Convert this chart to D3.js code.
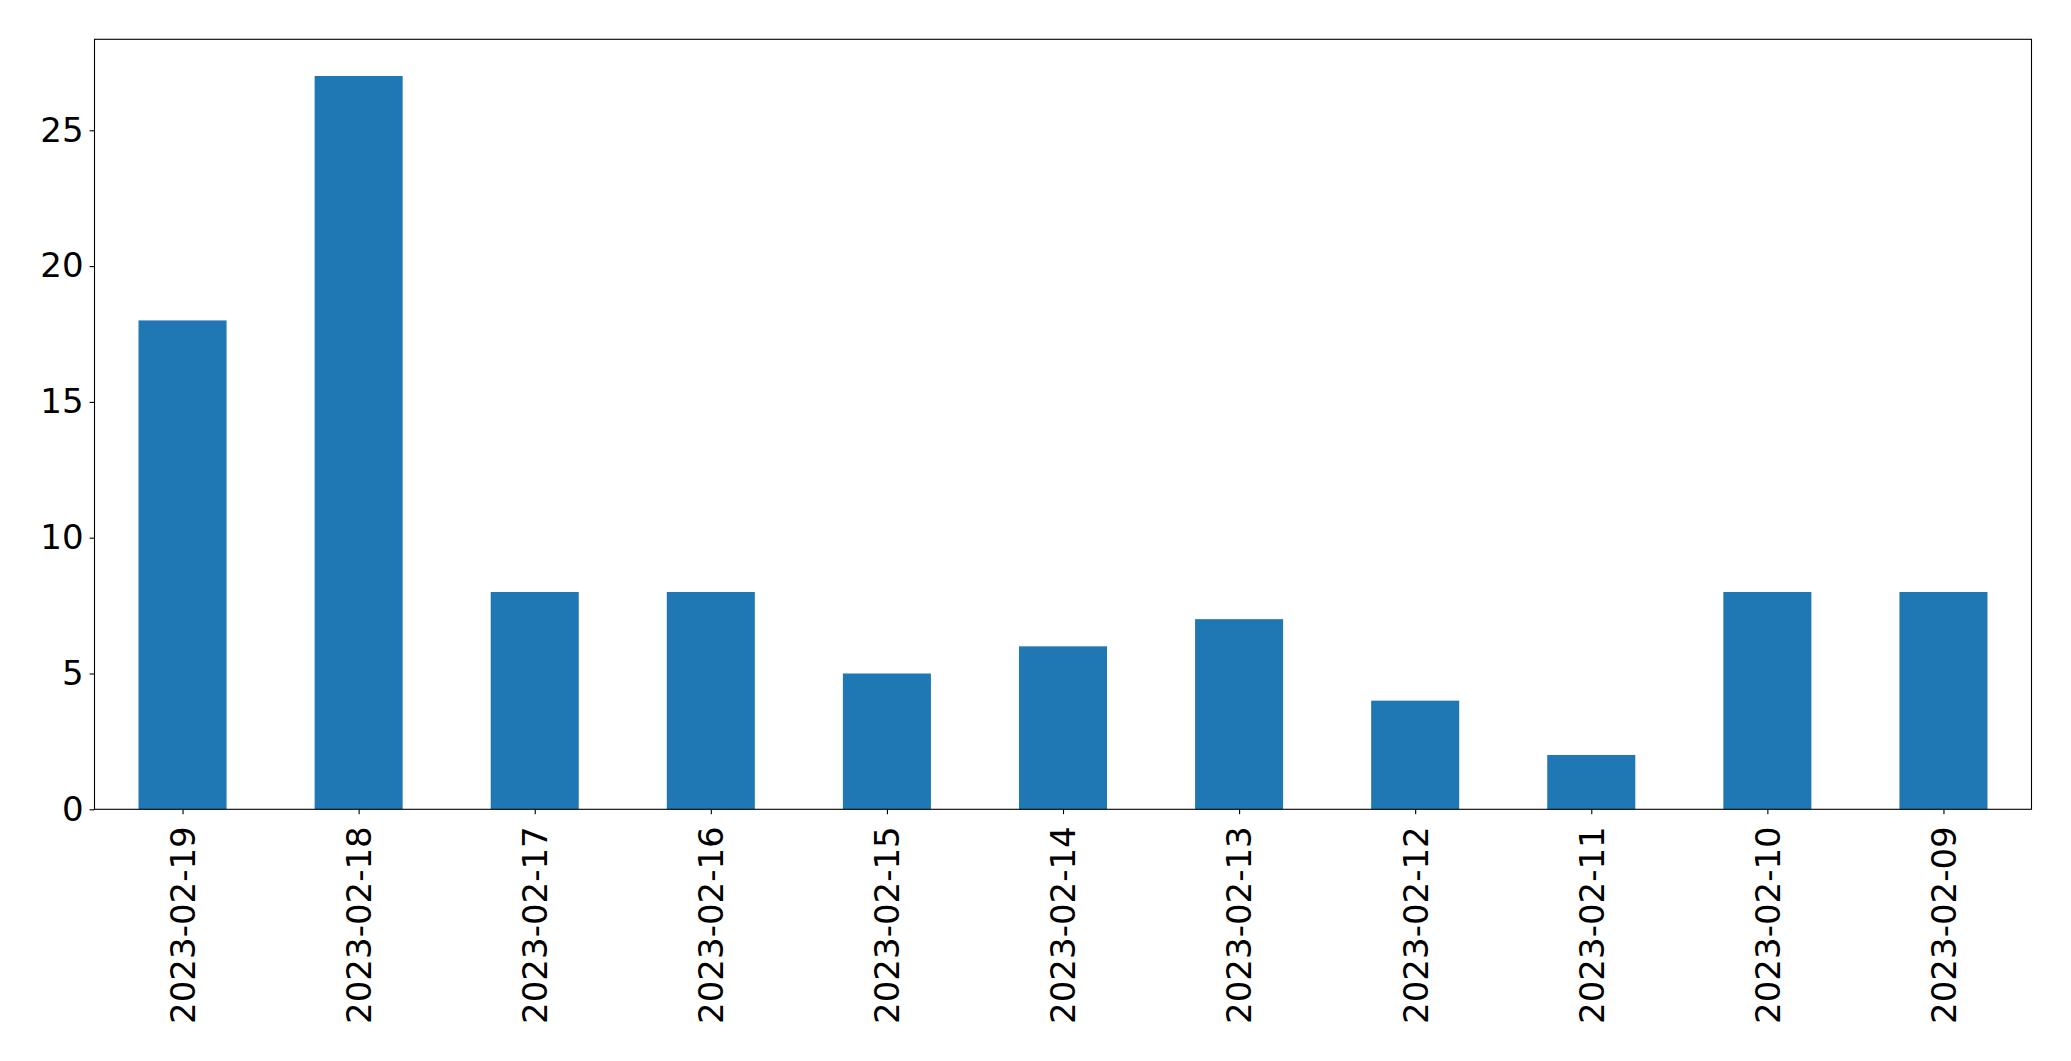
<!DOCTYPE html>
<html>
<head>
<meta charset="utf-8">
<script src="https://cdn.jsdelivr.net/npm/d3@7/dist/d3.min.js"></script>
<style>
  html, body { margin: 0; padding: 0; background: #fff; }
  svg { display: block; }
  text { font-family: "DejaVu Sans", sans-serif; fill: #000; }
</style>
</head>
<body>
<svg id="chart" width="2071" height="1061"></svg>
<script>
const categories = ["2023-02-19","2023-02-18","2023-02-17","2023-02-16","2023-02-15","2023-02-14","2023-02-13","2023-02-12","2023-02-11","2023-02-10","2023-02-09"];
const values = [18, 27, 8, 8, 5, 6, 7, 4, 2, 8, 8];
const yTicks = [0, 5, 10, 15, 20, 25];

const W = 2071, H = 1061;
const m = { left: 94.5, right: 2031.5, top: 39.3, bottom: 809.3 };
const fontSize = 34;

const svg = d3.select("#chart");

const x = d3.scaleLinear().domain([-0.5, categories.length - 0.5]).range([m.left, m.right]);
const y = d3.scaleLinear().domain([0, d3.max(values) * 1.05]).range([m.bottom, m.top]);
const barW = 0.5;

// bars
svg.append("g").selectAll("rect")
  .data(values)
  .join("rect")
  .attr("x", (d, i) => x(i - barW / 2))
  .attr("width", (d, i) => x(i + barW / 2) - x(i - barW / 2))
  .attr("y", d => y(d))
  .attr("height", d => y(0) - y(d))
  .attr("fill", "#1f77b4");

// y axis
const yAxis = d3.axisLeft(y).tickValues(yTicks).tickSize(4.9).tickPadding(6).tickFormat(d3.format("d"));
const gy = svg.append("g").attr("transform", `translate(${m.left},0)`).call(yAxis);
gy.select(".domain").remove();
gy.selectAll(".tick line").attr("stroke", "#000").attr("stroke-width", 1.1);
gy.selectAll(".tick text").attr("font-size", fontSize).attr("font-family", "DejaVu Sans, sans-serif").attr("fill", "#000");

// x axis
const xAxis = d3.axisBottom(x).tickValues(d3.range(categories.length)).tickSize(4.9).tickFormat(i => categories[i]);
const gx = svg.append("g").attr("transform", `translate(0,${m.bottom})`).call(xAxis);
gx.select(".domain").remove();
gx.selectAll(".tick line").attr("stroke", "#000").attr("stroke-width", 1.1);
gx.selectAll(".tick text")
  .attr("font-size", fontSize)
  .attr("font-family", "DejaVu Sans, sans-serif")
  .attr("fill", "#000")
  .attr("text-anchor", "end")
  .attr("transform", "translate(0,17) rotate(-90)")
  .attr("x", 0)
  .attr("y", 0)
  .attr("dy", "0.35em");

// frame
svg.append("rect")
  .attr("x", m.left).attr("y", m.top)
  .attr("width", m.right - m.left).attr("height", m.bottom - m.top)
  .attr("fill", "none").attr("stroke", "#000").attr("stroke-width", 1.1);
</script>
</body>
</html>
